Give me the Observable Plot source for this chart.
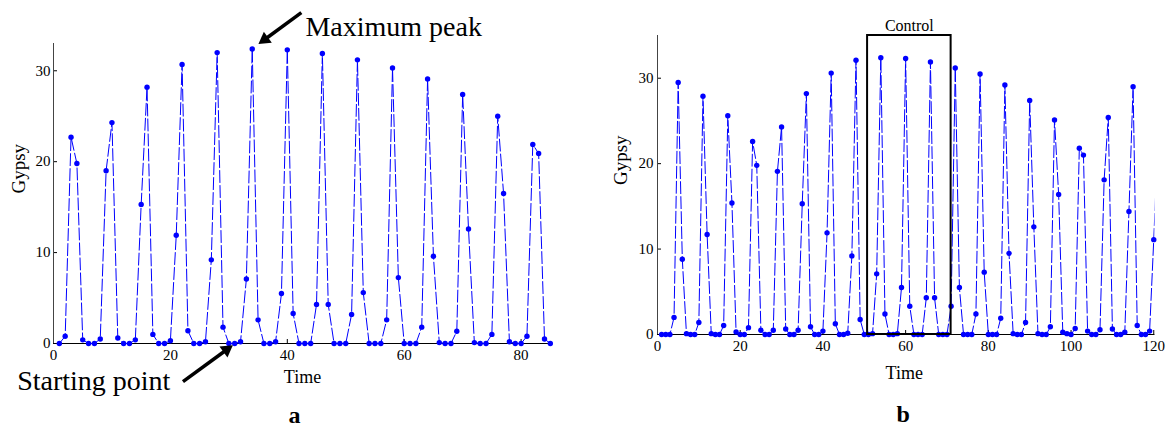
<!DOCTYPE html>
<html><head><meta charset="utf-8">
<script src="https://cdn.jsdelivr.net/npm/d3@7"></script>
<script src="https://cdn.jsdelivr.net/npm/@observablehq/plot@0.6"></script>
<style>
html,body{margin:0;padding:0;background:#fff;}
#wrap{display:flex;width:1176px;height:430px;overflow:hidden;}
#wrap svg{display:block;flex:none;}
#wrap svg text{font-family:'Liberation Serif','Times New Roman',serif;}
</style></head><body><div id="wrap"></div>
<script>
// ---- data (panel a) ----
const timeA = d3.range(1, 86);
const gypsyA = [
  0, 0.8, 22.7, 19.8, 0.4, 0, 0, 0.5, 19.0, 24.3,
  0.6, 0, 0, 0.4, 15.3, 28.2, 1.0, 0, 0, 0.3,
  11.9, 30.7, 1.4, 0, 0, 0.2, 9.2, 32.0, 1.8, 0,
  0, 0.2, 7.1, 32.4, 2.6, 0, 0, 0.2, 5.5, 32.3,
  3.3, 0, 0, 0, 4.3, 31.9, 4.3, 0, 0, 0,
  3.2, 31.2, 5.6, 0, 0, 0, 2.6, 30.3, 7.25, 0,
  0, 0, 1.8, 29.1, 9.6, 0.1, 0, 0, 1.35, 27.4,
  12.6, 0.1, 0, 0, 1.0, 25.0, 16.5, 0.2, 0, 0,
  0.8, 21.9, 20.9, 0.5, 0
];
// ---- data (panel b) ----
const timeB = d3.range(1, 122);
const gypsyB = [
  0, 0, 0, 2.0, 29.5, 8.8, 0.1, 0, 0, 1.4,
  27.9, 11.7, 0.1, 0, 0, 1.05, 25.6, 15.4, 0.3, 0,
  0, 0.8, 22.6, 19.8, 0.5, 0, 0, 0.5, 19.1, 24.3,
  0.65, 0, 0, 0.5, 15.3, 28.2, 0.9, 0, 0, 0.4,
  11.9, 30.6, 1.25, 0, 0, 0.15, 9.2, 32.1, 1.75, 0,
  0, 0.1, 7.1, 32.4, 2.4, 0, 0, 0.1, 5.5, 32.3,
  3.3, 0, 0, 0, 4.3, 31.9, 4.3, 0, 0, 0,
  3.3, 31.2, 5.5, 0, 0, 0, 2.4, 30.5, 7.3, 0,
  0, 0, 1.9, 29.2, 9.5, 0.1, 0, 0, 1.4, 27.4,
  12.6, 0.1, 0, 0, 0.9, 25.1, 16.4, 0.27, 0.1, 0,
  0.7, 21.8, 21.0, 0.4, 0, 0, 0.55, 18.1, 25.4, 0.65,
  0, 0, 0.27, 14.4, 29.0, 1.05, 0, 0, 0.4, 11.1,
  23
];
// ---- ticks & labels ----
const xTicksA = [0, 20, 40, 60, 80];
const xTicksB = [0, 20, 40, 60, 80, 100, 120];
const yTicks = [0, 10, 20, 30];
const xDomainA = [0, 85.2];
const yDomainA = [0, 33];
const xDomainB = [0, 120.3];
const yDomainB = [0, 35];
const xLabel = "Time";
const yLabel = "Gypsy";
const panelLabels = ["a", "b"];
const peakLabel = "Maximum peak";
const startLabel = "Starting point";
const startTime = 30;
const controlLabel = "Control";
const controlWindow = [50.8, 71];

const FONT = "'Liberation Serif', 'Times New Roman', serif";
const BLUE = "#0000ff";

const dataA = timeA.map((t, i) => ({t, v: gypsyA[i]}));
const dataB = timeB.map((t, i) => ({t, v: gypsyB[i]}));
const peak = d3.greatest(dataA, d => d.v);
const start = dataA.find(d => d.t === startTime);

function frameMarks(xDomain, yDomain, xTicks, fw, fh, axisPadY) {
  const yLen = (yDomain[1] - yDomain[0]) * 4 / fh;
  const xLen = (xDomain[1] - xDomain[0]) * 4 / fw;
  return [
    Plot.ruleX(xTicks, {x: d => d, y1: 0, y2: yLen, stroke: "#000"}),
    Plot.ruleY(yTicks, {y: d => d, x1: 0, x2: xLen, stroke: "#000"}),
    Plot.ruleX([0], {stroke: "#444"}),
    Plot.ruleY([0], {stroke: "#000"}),
    Plot.axisX({ticks: xTicks, tickSize: 0, tickPadding: 6, fontSize: 15, fontFamily: FONT, label: null}),
    Plot.axisY({ticks: yTicks, tickSize: 0, tickPadding: axisPadY, fontSize: 15, fontFamily: FONT, label: null})
  ];
}

// arrow with filled triangular head; offsets are relative to the annotated data point
function arrowMarks(pt, tail, tip, kx, ky) {
  const sx = pt.t + tail[0], sy = pt.v + tail[1];
  const tx = pt.t + tip[0], ty = pt.v + tip[1];
  const dxp = (tx - sx) * kx, dyp = -(ty - sy) * ky;
  const L = Math.hypot(dxp, dyp), ux = dxp / L, uy = dyp / L;
  const back = 7.5;
  const cx = tx - ux * back / kx, cy = ty + uy * back / ky;
  const rot = Math.atan2(ux, -uy) * 180 / Math.PI;
  return [
    Plot.link([pt], {x1: () => sx, y1: () => sy, x2: () => cx, y2: () => cy, stroke: "#000", strokeWidth: 3.5}),
    Plot.dot([pt], {x: () => cx, y: () => cy, symbol: "triangle", r: 5, rotate: rot, fill: "#000", stroke: "none"})
  ];
}

// ---- panel a ----
const WA = 588, HA = 430, mLA = 53, mRA = 37, mTA = 43, mBA = 87;
const kxA = (WA - mLA - mRA) / (xDomainA[1] - xDomainA[0]);
const kyA = (HA - mTA - mBA) / (yDomainA[1] - yDomainA[0]);
const plotA = Plot.plot({
  width: WA, height: HA,
  marginLeft: mLA, marginRight: mRA, marginTop: mTA, marginBottom: mBA,
  x: {domain: xDomainA, axis: null},
  y: {domain: yDomainA, axis: null},
  style: {fontFamily: FONT, fontSize: "15px", color: "#000", background: "#fff", overflow: "visible"},
  marks: [
    ...frameMarks(xDomainA, yDomainA, xTicksA, WA - mLA - mRA, HA - mTA - mBA, 3),
    Plot.line(dataA, {x: "t", y: "v", stroke: BLUE, strokeWidth: 1, strokeDasharray: "12,3"}),
    Plot.dot(dataA, {x: "t", y: "v", r: 2.7, fill: BLUE, stroke: "none"}),
    Plot.text([xLabel], {frameAnchor: "bottom", dy: 34, fontSize: 18, fontFamily: FONT, lineAnchor: "middle"}),
    Plot.text([yLabel], {frameAnchor: "left", dx: -35, rotate: -90, fontSize: 19, fontFamily: FONT, lineAnchor: "middle"}),
    Plot.text([panelLabels[0]], {frameAnchor: "bottom", dx: -8, dy: 72, fontSize: 24, fontFamily: FONT, fontWeight: "bold", lineAnchor: "middle"}),
    ...arrowMarks(peak, [8.4, 4.0], [1.1, 0.55], kxA, kyA),
    Plot.text([peak], {x: d => d.t + 9.1, y: d => d.v + 2.4, text: () => peakLabel, textAnchor: "start",
      fontSize: 28, fontFamily: FONT, lineAnchor: "middle"}),
    ...arrowMarks(start, [-7.85, -4.2], [0.65, -0.2], kxA, kyA),
    Plot.text([start], {x: d => d.t - 10, y: d => d.v - 4.14, text: () => startLabel, textAnchor: "end",
      fontSize: 28, fontFamily: FONT, lineAnchor: "middle"})
  ]
});

// ---- panel b ----
const WB = 588, HB = 430, mLB = 69, mRB = 21.5, mTB = 35, mBB = 96;
const plotB = Plot.plot({
  width: WB, height: HB,
  marginLeft: mLB, marginRight: mRB, marginTop: mTB, marginBottom: mBB,
  x: {domain: xDomainB, axis: null},
  y: {domain: yDomainB, axis: null},
  style: {fontFamily: FONT, fontSize: "15px", color: "#000", background: "#fff", overflow: "visible"},
  marks: [
    ...frameMarks(xDomainB, yDomainB, xTicksB, WB - mLB - mRB, HB - mTB - mBB, 4),
    Plot.line(dataB, {x: "t", y: "v", stroke: BLUE, strokeWidth: 1, strokeDasharray: "12,3", clip: true}),
    Plot.dot(dataB.filter(d => d.t <= xDomainB[1]), {x: "t", y: "v", r: 2.7, fill: BLUE, stroke: "none"}),
    Plot.rect([controlWindow], {x1: d => d[0], x2: d => d[1], y1: () => yDomainB[0], y2: () => yDomainB[1],
      fill: "none", stroke: "#000", strokeWidth: 2}),
    Plot.text([controlWindow], {x: d => (d[0] + d[1]) / 2, y: () => yDomainB[1], text: () => controlLabel,
      dy: -10, fontSize: 16, fontFamily: FONT, lineAnchor: "middle"}),
    Plot.text([xLabel], {frameAnchor: "bottom", dy: 39, dx: -2, fontSize: 18, fontFamily: FONT, lineAnchor: "middle"}),
    Plot.text([yLabel], {frameAnchor: "left", dx: -37, rotate: -90, fontSize: 19, fontFamily: FONT, lineAnchor: "middle"}),
    Plot.text([panelLabels[1]], {frameAnchor: "bottom", dx: -3, dy: 80, fontSize: 24, fontFamily: FONT, fontWeight: "bold", lineAnchor: "middle"})
  ]
});

document.getElementById("wrap").append(plotA, plotB);
</script>
</body></html>
